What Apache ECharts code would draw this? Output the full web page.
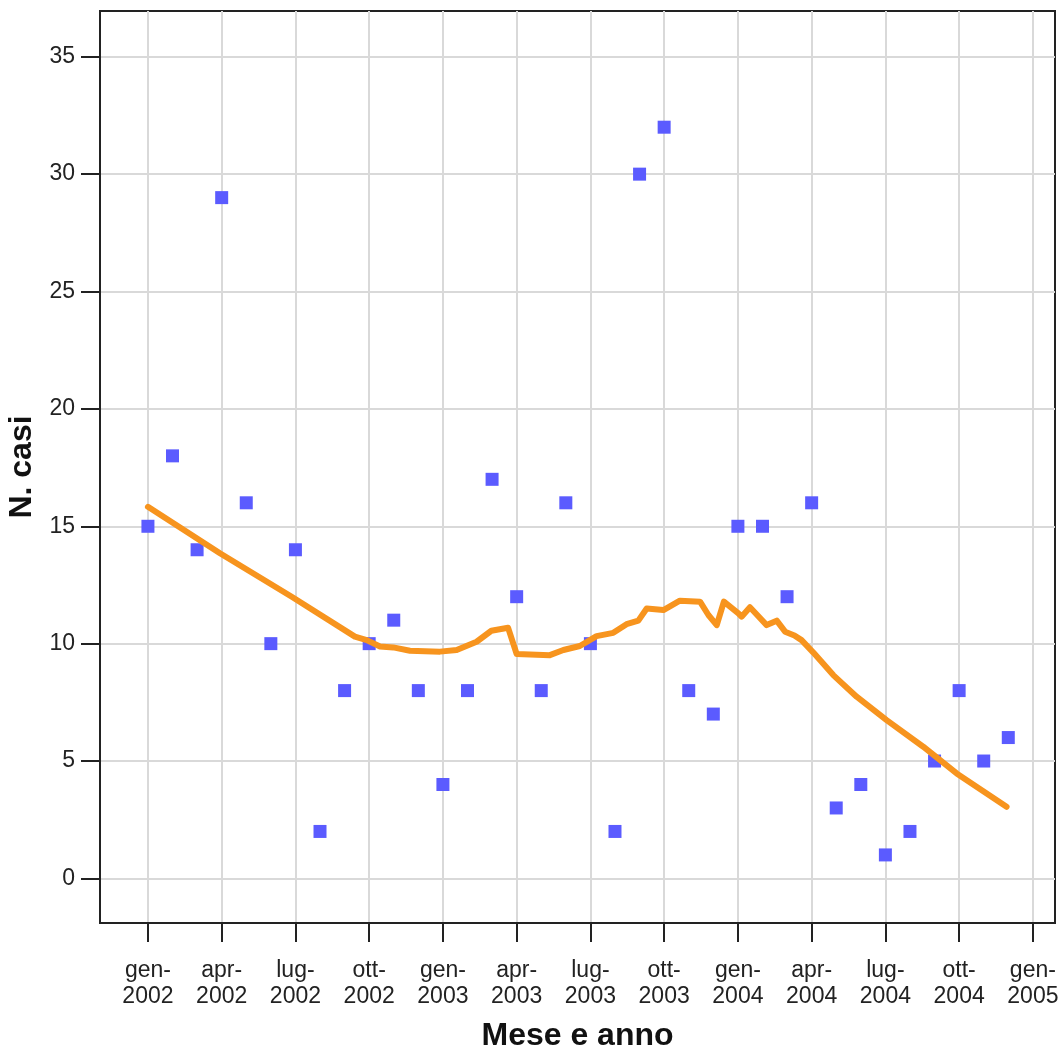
<!DOCTYPE html>
<html>
<head>
<meta charset="utf-8">
<script src="https://cdn.jsdelivr.net/npm/echarts@6/dist/echarts.min.js"></script>
<style>html,body{margin:0;padding:0;background:#fff}#c{width:1063px;height:1052px}</style>
</head>
<body>
<div id="c"></div>
<script>
// month index 0 = gen-2002
const monthIdx = [0,1,2,3,4,5,6,7,8,9,10,11,12,13,14,15,16,17,18,19,20,21,22,23,24,25,26,27,28,29,30,31,32,33,34,35];
const casi = [15,18,14,29,16,10,14,2,8,10,11,8,4,8,17,12,8,16,10,2,30,32,8,7,15,15,12,16,3,4,1,2,5,8,5,6];
// smoothed trend (month index, value)
const trendX = [0,2.93,5.85,8.42,8.9,9.44,9.98,10.66,11.88,12.56,13.37,13.97,14.65,15.0,16.35,16.9,17.57,18.25,18.93,19.47,19.95,20.29,20.97,21.64,22.46,22.8,23.14,23.43,24.02,24.15,24.49,25.17,25.58,25.92,26.3,26.59,27.07,27.88,28.83,30.05,31.54,32.9,34.93];
const trendY = [15.83,13.85,12.0,10.3,10.15,9.88,9.84,9.7,9.66,9.73,10.08,10.55,10.68,9.56,9.51,9.73,9.9,10.32,10.46,10.83,10.98,11.5,11.43,11.83,11.79,11.22,10.79,11.79,11.29,11.15,11.55,10.79,10.98,10.51,10.35,10.15,9.62,8.66,7.74,6.74,5.61,4.47,3.05];
const xTickVals = [0,3,6,9,12,15,18,21,24,27,30,33,36];
const xTickLabels = ['gen-\n2002','apr-\n2002','lug-\n2002','ott-\n2002','gen-\n2003','apr-\n2003','lug-\n2003','ott-\n2003','gen-\n2004','apr-\n2004','lug-\n2004','ott-\n2004','gen-\n2005'];
const yTickVals = [0,5,10,15,20,25,30,35];

const font = 'Liberation Sans, Arial, sans-serif';
const chart = echarts.init(document.getElementById('c'), null, {renderer:'canvas'});
chart.setOption({
  animation:false,
  backgroundColor:'#fff',
  grid:{left:100,top:11,right:8,bottom:129,outerBoundsMode:'none',containLabel:false,show:true,borderColor:'#222',borderWidth:2,backgroundColor:'transparent'},
  xAxis:{
    type:'value',min:-1.95,max:36.9,
    name:'Mese e anno',nameLocation:'middle',nameGap:97,
    nameTextStyle:{fontFamily:font,fontSize:32,fontWeight:'bold',color:'#111'},
    axisLine:{show:true,onZero:false,lineStyle:{color:'#222',width:2}},
    axisTick:{show:true,inside:false,customValues:xTickVals,length:19,lineStyle:{color:'#222',width:2}},
    axisLabel:{customValues:xTickVals,margin:35,fontFamily:font,fontSize:23,lineHeight:26,color:'#222',
      formatter:v=>{const i=xTickVals.indexOf(Math.round(v));return i>=0?xTickLabels[i]:'';}},
    splitLine:{show:true,lineStyle:{color:'#d9d9d9',width:2}}
  },
  yAxis:{
    type:'value',min:-1.9,max:36.95,
    name:'N. casi',nameLocation:'middle',nameGap:54,nameRotate:90,
    nameTextStyle:{fontFamily:font,fontSize:32,fontWeight:'bold',color:'#111'},
    axisLine:{show:true,onZero:false,lineStyle:{color:'#222',width:2}},
    axisTick:{show:true,inside:false,customValues:yTickVals,length:19,lineStyle:{color:'#222',width:2}},
    axisLabel:{customValues:yTickVals,margin:25,fontFamily:font,fontSize:23,color:'#222'},
    splitLine:{show:true,lineStyle:{color:'#d9d9d9',width:2}}
  },
  series:[
    {type:'scatter',symbol:'rect',symbolSize:13,itemStyle:{color:'#5b5bff',opacity:1},
     data:monthIdx.map((m,i)=>[m,casi[i]]),z:2},
    {type:'line',showSymbol:false,symbol:'none',lineStyle:{color:'#f7941e',width:6,join:'round',cap:'round'},
     data:trendX.map((m,i)=>[m,trendY[i]]),z:3}
  ]
});
</script>
</body>
</html>
